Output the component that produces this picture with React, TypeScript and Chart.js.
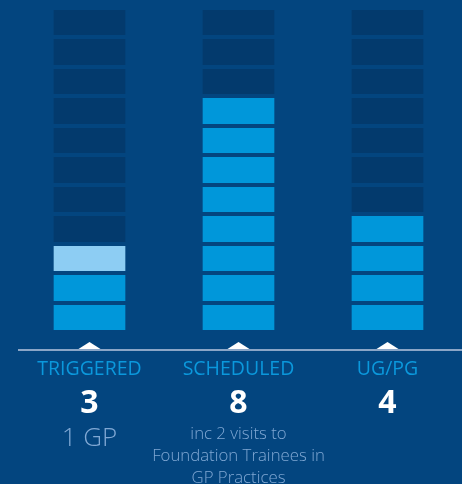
import React, { useEffect, useRef } from "react";
import { Chart, registerables } from "chart.js";

Chart.register(...registerables);

// Visit counts shown as stacks of unit blocks
const SLOTS = 11;
const categories = ["TRIGGERED", "SCHEDULED", "UG/PG"];
const totals = [3, 8, 4];
const gpVisits = [1, 0, 0];
const notes: string[][] = [
  ["1 GP"],
  ["inc 2 visits to", "Foundation Trainees in", "GP Practices"],
  [],
];

const BG = "#03457f";
const EMPTY = "#033a6d";
const FILLED = "#0097da";
const GP = "#8dcdf3";
const AXIS = "#8ba6c7";
const LABEL = "#0b98dc";
const NOTE = "#80a8d4";
const FONT = "'Open Sans', 'Noto Sans', sans-serif";

const footerPlugin = {
  id: "footer",
  afterDraw(chart: any) {
    const { ctx, chartArea } = chart;
    const xs = chart.scales.x;
    const axisY = chartArea.bottom + 18;
    ctx.save();
    // baseline
    ctx.strokeStyle = AXIS;
    ctx.lineWidth = 2;
    ctx.beginPath();
    ctx.moveTo(chartArea.left + 3, axisY);
    ctx.lineTo(chart.width, axisY);
    ctx.stroke();

    ctx.textAlign = "center";
    ctx.textBaseline = "middle";
    categories.forEach((cat, i) => {
      const cx = xs.getPixelForValue(i);
      // pointer triangle
      ctx.fillStyle = "#ffffff";
      ctx.beginPath();
      ctx.moveTo(cx - 11, axisY - 1);
      ctx.lineTo(cx, axisY - 8);
      ctx.lineTo(cx + 11, axisY - 1);
      ctx.closePath();
      ctx.fill();

      ctx.fillStyle = LABEL;
      ctx.font = `400 19.5px ${FONT}`;
      ctx.fillText(cat, cx, axisY + 19);

      ctx.fillStyle = "#ffffff";
      ctx.font = `700 32px ${FONT}`;
      ctx.fillText(String(totals[i]), cx, axisY + 54);

      const lines = notes[i];
      ctx.fillStyle = NOTE;
      if (lines.length === 1) {
        ctx.font = `300 26px ${FONT}`;
        ctx.fillText(lines[0], cx, axisY + 89);
      } else {
        ctx.font = `300 16.8px ${FONT}`;
        lines.forEach((ln, k) => ctx.fillText(ln, cx, axisY + 84 + k * 22));
      }
    });
    ctx.restore();
  },
};

export default function App() {
  const ref = useRef<HTMLCanvasElement>(null);

  useEffect(() => {
    if (!ref.current) return;
    const regular = totals.map((t, i) => t - gpVisits[i]);
    const remaining = totals.map((t) => SLOTS - t);
    const chart = new Chart(ref.current, {
      type: "bar",
      data: {
        labels: categories,
        datasets: [
          { label: "Visits", data: regular, backgroundColor: FILLED },
          { label: "GP", data: gpVisits, backgroundColor: GP },
          { label: "Remaining", data: remaining, backgroundColor: EMPTY },
        ],
      },
      options: {
        animation: false,
        responsive: false,
        layout: { padding: { top: 8, bottom: 152, left: 15, right: 0 } },
        datasets: { bar: { barThickness: 71 } } as any,
        plugins: { legend: { display: false }, tooltip: { enabled: false } },
        scales: {
          x: { display: false, stacked: true },
          y: {
            stacked: true,
            min: 0,
            max: SLOTS,
            ticks: { display: false, stepSize: 1 },
            border: { display: false },
            // block separators: grid lines in the background colour, drawn over the bars
            grid: { color: BG, lineWidth: 4, drawTicks: false, z: 1 } as any,
          },
        },
      },
      plugins: [footerPlugin],
    });
    return () => chart.destroy();
  }, []);

  return (
    <div
      style={{
        position: "fixed",
        left: 0,
        top: 0,
        width: 462,
        height: 484,
        background: BG,
      }}
    >
      <canvas ref={ref} width={462} height={484} style={{ display: "block" }} />
    </div>
  );
}
